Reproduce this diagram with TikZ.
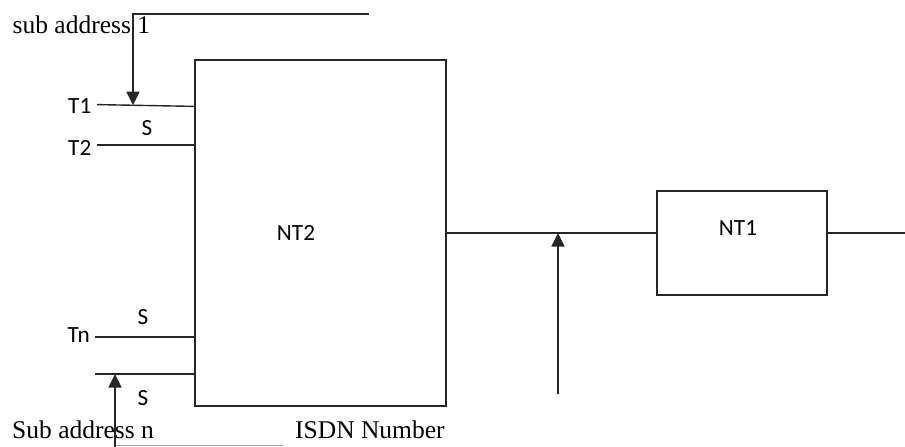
\documentclass[tikz,border=0pt]{standalone}
\usepackage{fontspec}
\setmainfont{Liberation Serif}
\newfontfamily\calib{Carlito}
\usetikzlibrary{arrows.meta}
\begin{document}
\begin{tikzpicture}[x=1pt,y=-1pt,
  wire/.style={line width=1.4pt, draw=black!85},
  arr/.style={wire,-{Triangle[width=13pt,length=13.5pt]}},
  box/.style={draw=black!85,line width=1.4pt,rectangle,inner sep=0pt,outer sep=0pt},
  lab/.style={font=\calib\fontsize{23.2}{28}\selectfont,inner sep=0pt},
  ser/.style={font=\fontsize{25.5}{30}\selectfont,inner sep=0pt}]
\useasboundingbox (0,0) rectangle (905,447);
% boxes
\node[box,minimum width=251pt,minimum height=346pt] (nt2) at (320.5,233) {};
\node[box,minimum width=170pt,minimum height=104pt] (nt1) at (742,243) {};
\node[lab,anchor=base] (nt2l) at (296,240) {NT2};
\node[lab,anchor=base] (nt1l) at (738,235.7) {NT1};
% terminal labels
\node[lab,anchor=base east] (t1) at (91.5,113.3) {T1};
\node[lab,anchor=base east] (t2) at (91.5,155.5) {T2};
\node[lab,anchor=base east] (tn) at (90,342.7) {Tn};
\node[lab,anchor=base] (s1) at (147,135) {S};
\node[lab,anchor=base] (s2) at (143,324) {S};
\node[lab,anchor=base] (s3) at (143,405) {S};
% serif texts
\node[ser,anchor=base west] (sa1) at (12.5,33.3) {sub address 1};
\node[ser,anchor=base west] (san) at (12,438) {Sub address n};
\node[ser,anchor=base west] (isdn) at (295,438) {ISDN Number};
% coordinates
\coordinate (t1s) at (97,104.6);
\coordinate (t1e) at (195,106.4);
\coordinate (t2s) at (97,145);
\coordinate (tns) at (95,337);
\coordinate (tls) at (95,374);
\coordinate (sa1e) at (369,14);
\coordinate (sa1c) at (133,14);
\coordinate (sa1t) at (133,105.2);
\coordinate (sanb) at (283,445.5);
\coordinate (sanc) at (115,445.5);
\coordinate (sanv) at (115,447);
\coordinate (sant) at (115,374);
\coordinate (ln) at (0,233);
\coordinate (rend) at (905,233);
\coordinate (isb) at (558,394);
\coordinate (ist) at (558,233);
% lines
\draw[wire] (t1s) -- (t1e);
\draw[wire] (t2s) -- (nt2.west |- t2s);
\draw[wire] (tns) -- (nt2.west |- tns);
\draw[wire] (tls) -- (nt2.west |- tls);
\draw[arr] (sa1e) -- (sa1c) -- (sa1t);
\draw[line width=1.2pt,draw=black!35] (sanb) -- (sanc);
\draw[arr] (sanv) -- (sant);
\draw[wire] (nt2.east |- ln) -- (nt1.west |- ln);
\draw[wire] (nt1.east |- ln) -- (rend);
\draw[arr] (isb) -- (ist);
\end{tikzpicture}
\end{document}
